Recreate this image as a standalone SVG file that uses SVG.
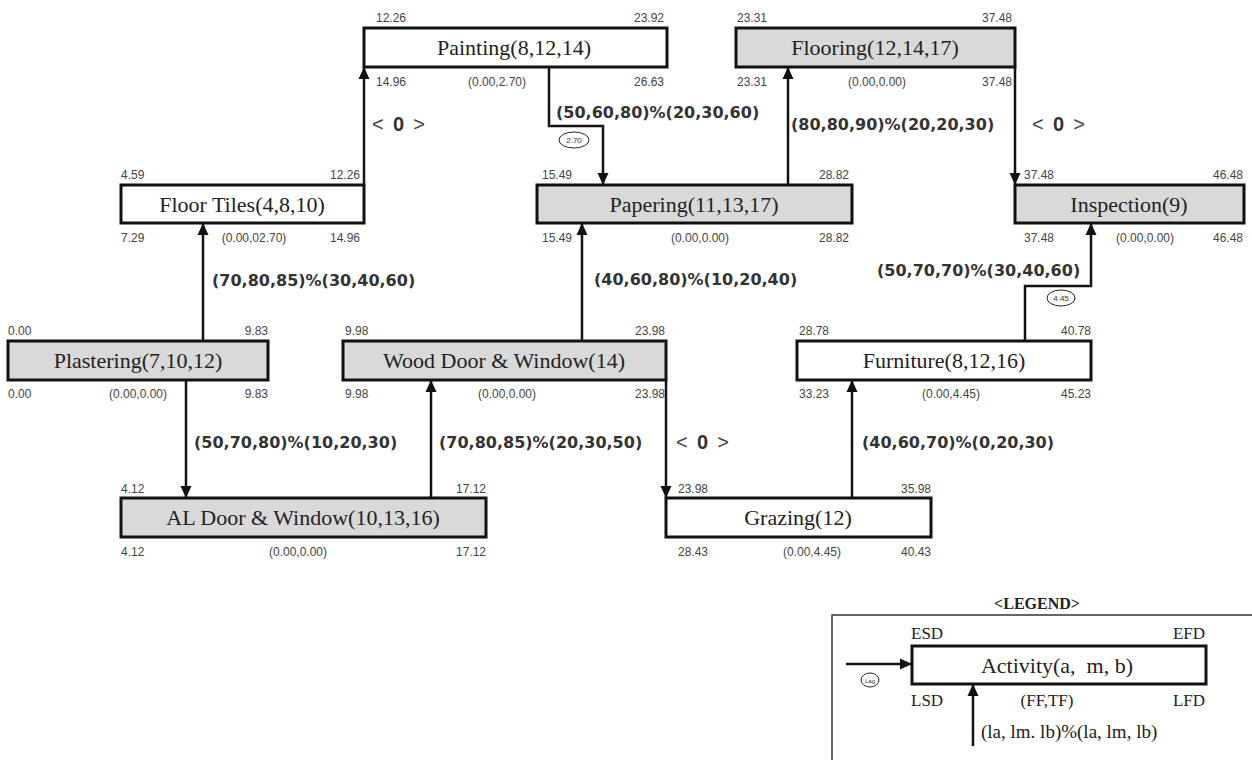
<svg xmlns="http://www.w3.org/2000/svg" width="1252" height="760" viewBox="0 0 1252 760">
<defs>
<marker id="ah" markerUnits="userSpaceOnUse" markerWidth="12" markerHeight="12" viewBox="0 0 12 12" refX="12" refY="6" orient="auto">
<path d="M0,0.5 L12,6 L0,11.5 z" fill="#111"/>
</marker>
</defs>
<style>
.box{stroke:#111;stroke-width:3}
.w{fill:#fff}
.g{fill:#d9d9d9}
.nm{font-family:"Liberation Serif",serif;font-size:22px;fill:#222;text-anchor:middle}
.sm{font-family:"Liberation Sans",sans-serif;font-size:12px;fill:#444}
.r{text-anchor:end}
.c{text-anchor:middle}
.el{font-family:"DejaVu Sans",sans-serif;font-weight:bold;font-size:16px;fill:#333}
.z{font-family:"Liberation Sans",sans-serif;font-size:20px;fill:#444}
.zb{font-weight:bold;fill:#333}
.ln{fill:none;stroke:#111;stroke-width:2.5}
.ov{fill:#fff;stroke:#222;stroke-width:1}
.ot{font-family:"Liberation Sans",sans-serif;font-size:8px;fill:#333;text-anchor:middle}
.lg{font-family:"Liberation Serif",serif;font-size:17px;fill:#222}
</style>

<g id="connectors">
<path class="ln" d="M364,185 V67" marker-end="url(#ah)"/>
<path class="ln" d="M549,67 V126 H603 V185" marker-end="url(#ah)"/>
<path class="ln" d="M788,185 V67" marker-end="url(#ah)"/>
<path class="ln" d="M1015,67 V185" marker-end="url(#ah)"/>
<path class="ln" d="M203,341 V223" marker-end="url(#ah)"/>
<path class="ln" d="M186,380 V498" marker-end="url(#ah)"/>
<path class="ln" d="M431,498 V380" marker-end="url(#ah)"/>
<path class="ln" d="M582,341 V223" marker-end="url(#ah)"/>
<path class="ln" d="M666,380 V498" marker-end="url(#ah)"/>
<path class="ln" d="M852,498 V380" marker-end="url(#ah)"/>
<path class="ln" d="M1025,341 V286 H1091 V223" marker-end="url(#ah)"/>
<text class="z" x="372" y="131" textLength="53">&lt; <tspan class="zb">0</tspan> &gt;</text>
<text class="el" x="556" y="118">(50,60,80)%(20,30,60)</text>
<ellipse class="ov" cx="574" cy="140" rx="15" ry="8"/>
<text class="ot" x="574" y="143">2.70</text>
<text class="el" x="791" y="130">(80,80,90)%(20,20,30)</text>
<text class="z" x="1032" y="131" textLength="53">&lt; <tspan class="zb">0</tspan> &gt;</text>
<text class="el" x="212" y="286">(70,80,85)%(30,40,60)</text>
<text class="el" x="594" y="285">(40,60,80)%(10,20,40)</text>
<text class="el" x="877" y="276">(50,70,70)%(30,40,60)</text>
<ellipse class="ov" cx="1061" cy="298" rx="14" ry="8"/>
<text class="ot" x="1061" y="301">4.45</text>
<text class="el" x="194" y="448">(50,70,80)%(10,20,30)</text>
<text class="el" x="439" y="448">(70,80,85)%(20,30,50)</text>
<text class="z" x="676" y="449" textLength="53">&lt; <tspan class="zb">0</tspan> &gt;</text>
<text class="el" x="862" y="448">(40,60,70)%(0,20,30)</text>
</g>

<g id="painting">
<rect class="box w" x="364" y="28" width="303" height="39"/>
<text class="nm" x="514" y="55">Painting(8,12,14)</text>
<text class="sm" x="376" y="22">12.26</text>
<text class="sm r" x="664" y="22">23.92</text>
<text class="sm" x="376" y="86">14.96</text>
<text class="sm c" x="497" y="86">(0.00,2.70)</text>
<text class="sm r" x="664" y="86">26.63</text>
</g>

<g id="flooring">
<rect class="box g" x="736" y="28" width="279" height="39"/>
<text class="nm" x="875" y="55">Flooring(12,14,17)</text>
<text class="sm" x="737" y="22">23.31</text>
<text class="sm r" x="1012" y="22">37.48</text>
<text class="sm" x="737" y="86">23.31</text>
<text class="sm c" x="877" y="86">(0.00,0.00)</text>
<text class="sm r" x="1012" y="86">37.48</text>
</g>

<g id="floortiles">
<rect class="box w" x="121" y="185" width="243" height="38"/>
<text class="nm" x="242" y="212">Floor Tiles(4,8,10)</text>
<text class="sm" x="121" y="179">4.59</text>
<text class="sm r" x="360" y="179">12.26</text>
<text class="sm" x="121" y="242">7.29</text>
<text class="sm c" x="254" y="242">(0.00,02.70)</text>
<text class="sm r" x="360" y="242">14.96</text>
</g>

<g id="papering">
<rect class="box g" x="537" y="185" width="315" height="38"/>
<text class="nm" x="694" y="212">Papering(11,13,17)</text>
<text class="sm" x="542" y="179">15.49</text>
<text class="sm r" x="849" y="179">28.82</text>
<text class="sm" x="542" y="242">15.49</text>
<text class="sm c" x="700" y="242">(0.00,0.00)</text>
<text class="sm r" x="849" y="242">28.82</text>
</g>

<g id="inspection">
<rect class="box g" x="1015" y="185" width="229" height="38"/>
<text class="nm" x="1129" y="212">Inspection(9)</text>
<text class="sm" x="1024" y="179">37.48</text>
<text class="sm r" x="1243" y="179">46.48</text>
<text class="sm" x="1024" y="242">37.48</text>
<text class="sm c" x="1145" y="242">(0.00,0.00)</text>
<text class="sm r" x="1243" y="242">46.48</text>
</g>

<g id="plastering">
<rect class="box g" x="8" y="341" width="260" height="39"/>
<text class="nm" x="138" y="368">Plastering(7,10,12)</text>
<text class="sm" x="8" y="335">0.00</text>
<text class="sm r" x="268" y="335">9.83</text>
<text class="sm" x="8" y="398">0.00</text>
<text class="sm c" x="138" y="398">(0.00,0.00)</text>
<text class="sm r" x="268" y="398">9.83</text>
</g>

<g id="wooddoor">
<rect class="box g" x="343" y="341" width="323" height="39"/>
<text class="nm" x="504" y="368">Wood Door &amp; Window(14)</text>
<text class="sm" x="345" y="335">9.98</text>
<text class="sm r" x="665" y="335">23.98</text>
<text class="sm" x="345" y="398">9.98</text>
<text class="sm c" x="507" y="398">(0.00,0.00)</text>
<text class="sm r" x="665" y="398">23.98</text>
</g>

<g id="furniture">
<rect class="box w" x="797" y="341" width="294" height="39"/>
<text class="nm" x="944" y="368">Furniture(8,12,16)</text>
<text class="sm" x="799" y="335">28.78</text>
<text class="sm r" x="1091" y="335">40.78</text>
<text class="sm" x="799" y="398">33.23</text>
<text class="sm c" x="951" y="398">(0.00,4.45)</text>
<text class="sm r" x="1091" y="398">45.23</text>
</g>

<g id="aldoor">
<rect class="box g" x="121" y="498" width="365" height="39"/>
<text class="nm" x="303" y="525">AL Door &amp; Window(10,13,16)</text>
<text class="sm" x="121" y="493">4.12</text>
<text class="sm r" x="486" y="493">17.12</text>
<text class="sm" x="121" y="556">4.12</text>
<text class="sm c" x="298" y="556">(0.00,0.00)</text>
<text class="sm r" x="486" y="556">17.12</text>
</g>

<g id="grazing">
<rect class="box w" x="666" y="498" width="265" height="39"/>
<text class="nm" x="798" y="525">Grazing(12)</text>
<text class="sm" x="678" y="493">23.98</text>
<text class="sm r" x="931" y="493">35.98</text>
<text class="sm" x="678" y="556">28.43</text>
<text class="sm c" x="812" y="556">(0.00,4.45)</text>
<text class="sm r" x="931" y="556">40.43</text>
</g>

<g id="legend">
<text x="1037" y="609" style="font-family:'Liberation Serif',serif;font-weight:bold;font-size:16px;fill:#222;text-anchor:middle">&lt;LEGEND&gt;</text>
<rect x="832" y="615" width="440" height="170" fill="#fff" stroke="#333" stroke-width="1.5"/>
<rect class="box w" x="912" y="646" width="294" height="38"/>
<text class="nm" x="1057" y="673">Activity(a,&#160; m, b)</text>
<text class="lg" x="911" y="639">ESD</text>
<text class="lg r" x="1205" y="639">EFD</text>
<text class="lg" x="911" y="706">LSD</text>
<text class="lg c" x="1047" y="706">(FF,TF)</text>
<text class="lg r" x="1205" y="706">LFD</text>
<path class="ln" d="M846,664 H912" marker-end="url(#ah)"/>
<ellipse class="ov" cx="870" cy="680" rx="9" ry="7"/>
<text class="ot" x="870" y="682.5" style="font-size:6px">Lag</text>
<path class="ln" d="M973,746 V684" marker-end="url(#ah)"/>
<text class="lg" x="981" y="738" style="font-size:19px">(la, lm. lb)%(la, lm, lb)</text>
</g>
</svg>
